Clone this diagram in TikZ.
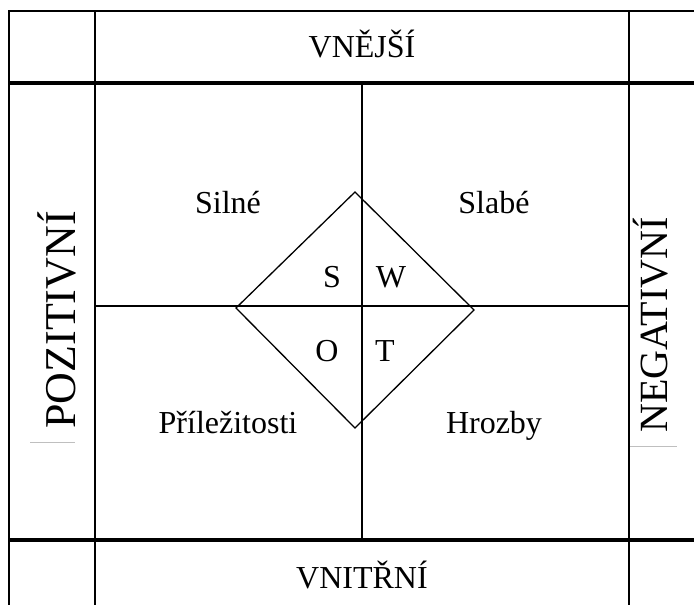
\documentclass[tikz,border=0pt]{standalone}
\usepackage{fontspec}
\setmainfont{Liberation Serif}
\begin{document}
\begin{tikzpicture}[x=1pt,y=-1pt,
  frame/.style={line width=2pt},
  thickrule/.style={line width=3.5pt},
  inner/.style={line width=1.5pt},
  diam/.style={line width=1.3pt,line join=miter},
  lbl/.style={inner sep=0pt,anchor=base,font=\fontsize{32}{36}\selectfont},
  side/.style={inner sep=0pt,anchor=base,rotate=90,font=\fontsize{44}{48}\selectfont},
  faint/.style={line width=1pt,draw=black!25}]
\useasboundingbox[fill=white] (0,0) rectangle (694,605);
% grid
\draw[frame] (694,11) -- (9,11) -- (9,605);
\draw[frame] (95,11) -- (95,605);
\draw[frame] (629,11) -- (629,605);
\draw[thickrule] (9,83) -- (694,83);
\draw[thickrule] (9,540) -- (694,540);
\draw[inner] (362,83) -- (362,540);
\draw[inner] (95,306) -- (629,306);
% diamond
\coordinate (dt) at (355,192);
\coordinate (dr) at (474,310);
\coordinate (db) at (355,428);
\coordinate (dl) at (236,308);
\draw[diam] (dt) -- (dr) -- (db) -- (dl) -- cycle;
% labels
\node[lbl] (ext) at (362,57) {VNĚJŠÍ};
\node[lbl] (int) at (362,588) {VNITŘNÍ};
\node[lbl] (str) at (228,213) {Silné};
\node[lbl] (wea) at (494,213) {Slabé};
\node[lbl] (opp) at (228,433) {Příležitosti};
\node[lbl] (thr) at (494,433) {Hrozby};
\node[lbl] (s) at (332,287) {S};
\node[lbl] (w) at (391,287) {W};
\node[lbl] (o) at (327,361) {O};
\node[lbl] (t) at (385,361) {T};
\node[side] (pos) at (75,320) {POZITIVNÍ};
\node[side,font=\fontsize{40}{44}\selectfont] (neg) at (667,325) {NEGATIVNÍ};
\draw[faint] (30,442) -- (75,442);
\draw[faint] (630,446) -- (677,446);
\end{tikzpicture}
\end{document}
